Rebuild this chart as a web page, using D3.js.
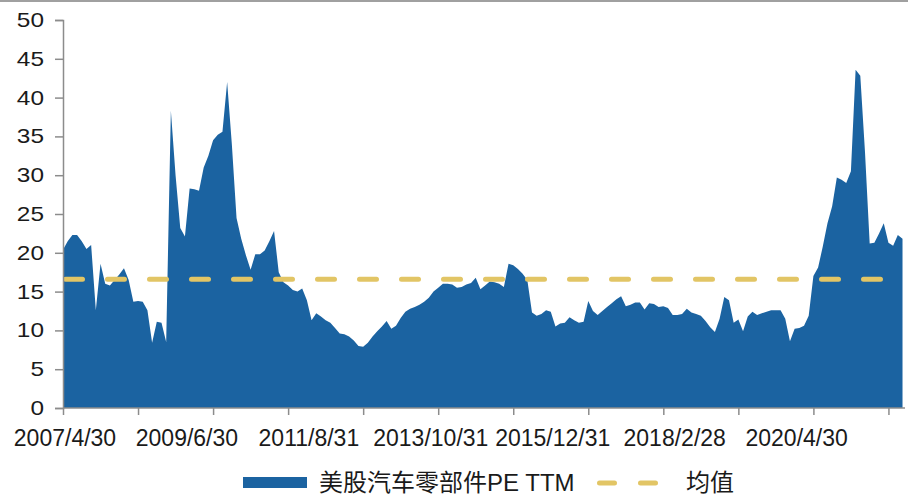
<!DOCTYPE html>
<html>
<head>
<meta charset="utf-8">
<script src="https://cdn.jsdelivr.net/npm/d3@7"></script>
<style>
  html, body { margin: 0; padding: 0; background: #fff; }
  svg { display: block; }
</style>
</head>
<body>
<svg id="chart" width="908" height="495"></svg>
<script>
// Monthly PE (TTM) of US auto-parts stocks, month-end from 2007/4/30
const startMonth = "2007-04";
const peTTM = [
  20.4, 21.5, 22.3, 22.3, 21.5, 20.5, 21.0, 12.6, 18.6, 16.0,
  15.8, 16.5, 17.2, 18.0, 16.5, 13.7, 13.8, 13.7, 12.6, 8.4,
  11.1, 11.0, 8.5, 38.3, 30.0, 23.2, 22.1, 28.3, 28.2, 28.0,
  31.0, 32.5, 34.5, 35.2, 35.6, 42.0, 34.0, 24.5, 21.8, 19.7,
  17.8, 19.8, 19.8, 20.3, 21.5, 22.8, 17.5, 16.2, 15.8, 15.2,
  15.0, 15.4, 13.9, 11.3, 12.2, 11.8, 11.3, 11.0, 10.3, 9.6,
  9.5, 9.2, 8.7, 8.0, 7.9, 8.4, 9.2, 9.9, 10.5, 11.2,
  10.2, 10.6, 11.6, 12.4, 12.8, 13.0, 13.3, 13.7, 14.2, 15.0,
  15.5, 16.0, 16.0, 15.9, 15.5, 15.6, 15.9, 16.1, 16.8, 15.3,
  15.8, 16.3, 16.2, 16.0, 15.6, 18.6, 18.4, 17.9, 17.3, 16.5,
  12.3, 11.9, 12.1, 12.6, 12.4, 10.5, 10.9, 11.0, 11.7, 11.3,
  11.0, 11.1, 13.8, 12.5, 12.0, 12.5, 13.0, 13.5, 14.0, 14.4,
  13.1, 13.3, 13.6, 13.6, 12.7, 13.5, 13.4, 13.0, 13.1, 12.9,
  12.0, 12.0, 12.1, 12.8, 12.3, 12.1, 11.9, 11.2, 10.4, 9.8,
  11.5, 14.3, 13.9, 11.0, 11.4, 9.9, 11.8, 12.4, 12.0, 12.2,
  12.4, 12.6, 12.6, 12.6, 11.5, 8.6, 10.2, 10.3, 10.6, 11.9,
  17.0, 18.1, 20.8, 23.8, 26.0, 29.7, 29.4, 29.0, 30.5, 43.6,
  42.8, 33.0, 21.2, 21.3, 22.5, 23.8, 21.3, 20.9, 22.3, 21.8
];
const meanPE = 16.6;
const yTicks = [0, 5, 10, 15, 20, 25, 30, 35, 40, 45, 50];
const xTickLabels = ["2007/4/30", "2009/6/30", "2011/8/31", "2013/10/31", "2015/12/31", "2018/2/28", "2020/4/30"];
const tickEvery = 16;     // tick mark spacing, in months
const seriesName = "美股汽车零部件PE TTM";
const meanName = "均值";

// month-end category labels
const fmt = d3.timeFormat("%Y/%-m/%-d");
const first = d3.timeParse("%Y-%m")(startMonth);
const dates = peTTM.map((_, i) => fmt(d3.timeDay.offset(d3.timeMonth.offset(first, i + 1), -1)));

const svg = d3.select("#chart");
const plotLeft = 63, plotBottom = 408, plotTop = 20;
const step = 4.69;
const x = d3.scaleLinear().domain([0, peTTM.length - 1]).range([plotLeft, plotLeft + step * (peTTM.length - 1)]);
const y = d3.scaleLinear().domain([0, 50]).range([plotBottom, plotTop]);

const BLUE = "#1b63a1";
const GOLD = "#e2c565";
const AXIS = "#8c8c8c";
const TEXT = "#1a1a1a";

// thin frame line along the top edge
svg.append("line").attr("x1", 0).attr("x2", 908).attr("y1", 1).attr("y2", 1)
  .attr("stroke", "#a0a0a0").attr("stroke-width", 2);

// area
const area = d3.area().x((d, i) => x(i)).y0(y(0)).y1(d => y(d)).curve(d3.curveLinear);
svg.append("path").datum(peTTM).attr("d", area).attr("fill", BLUE);

// mean line
svg.append("line")
  .attr("x1", plotLeft + 2.5).attr("x2", 881)
  .attr("y1", y(meanPE)).attr("y2", y(meanPE))
  .attr("stroke", GOLD).attr("stroke-width", 5)
  .attr("stroke-linecap", "round")
  .attr("stroke-dasharray", "17,25");

// y axis
const yAxis = svg.append("g").attr("transform", `translate(${plotLeft},0)`)
  .call(d3.axisLeft(y).tickValues(yTicks).tickSize(8).tickFormat(""));
yAxis.select(".domain").attr("stroke", AXIS).attr("stroke-width", 1.5);
yAxis.selectAll(".tick line").attr("stroke", AXIS).attr("stroke-width", 1.5);

svg.append("g").selectAll("text").data(yTicks).join("text")
  .attr("transform", d => `translate(44,${y(d) + 7}) scale(1.22,1)`)
  .attr("text-anchor", "end")
  .attr("font-family", "Liberation Sans, Arial, sans-serif")
  .attr("font-size", 20)
  .attr("fill", TEXT)
  .text(d => d);

// x axis
const tickIdx = d3.range(0, peTTM.length, tickEvery);
const xAxis = svg.append("g").attr("transform", `translate(0,${plotBottom})`)
  .call(d3.axisBottom(x).tickValues(tickIdx).tickSize(7).tickFormat("").tickSizeOuter(0));
xAxis.select(".domain").attr("stroke", AXIS).attr("stroke-width", 1.5)
  .attr("d", `M${plotLeft},0H905`);
xAxis.selectAll(".tick line").attr("stroke", AXIS).attr("stroke-width", 1.5);

svg.append("g").selectAll("text").data(xTickLabels).join("text")
  .attr("x", d => x(dates.indexOf(d)) + 2)
  .attr("y", 446)
  .attr("text-anchor", "middle")
  .attr("font-family", "Liberation Sans, Arial, sans-serif")
  .attr("font-size", 23)
  .attr("fill", TEXT)
  .text(d => d);

// legend
const lg = svg.append("g");
lg.append("rect").attr("x", 243).attr("y", 477).attr("width", 64).attr("height", 11).attr("fill", BLUE);
lg.append("text").attr("x", 319).attr("y", 491)
  .attr("font-family", "Liberation Sans, Noto Sans CJK SC, sans-serif")
  .attr("font-size", 24).attr("fill", TEXT).text(seriesName);
lg.append("line").attr("x1", 599.5).attr("x2", 656).attr("y1", 483).attr("y2", 483)
  .attr("stroke", GOLD).attr("stroke-width", 5).attr("stroke-linecap", "round")
  .attr("stroke-dasharray", "15,26");
lg.append("text").attr("x", 686).attr("y", 491)
  .attr("font-family", "Liberation Sans, Noto Sans CJK SC, sans-serif")
  .attr("font-size", 24).attr("fill", TEXT).text(meanName);
</script>
</body>
</html>
